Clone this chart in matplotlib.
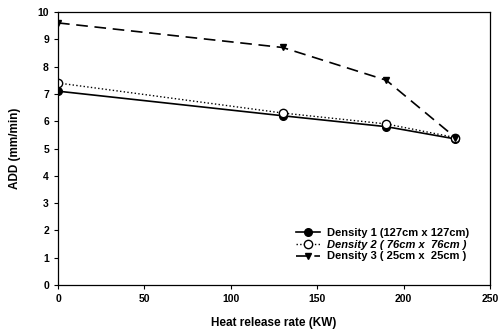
import matplotlib
matplotlib.use('Agg')
import matplotlib.pyplot as plt

plt.rcParams['font.family'] = ['Liberation Sans', 'DejaVu Sans']
plt.rcParams['font.weight'] = 'bold'

# data
heat = [0, 130, 190, 230]
density1 = [7.1, 6.2, 5.8, 5.35]
density2 = [7.4, 6.3, 5.9, 5.4]
density3 = [9.6, 8.7, 7.5, 5.4]
labels = ['Density 1 (127cm x 127cm)',
          'Density 2 ( 76cm x  76cm )',
          'Density 3 ( 25cm x  25cm )']

fig = plt.figure(figsize=(5, 3.33), dpi=100)
ax = fig.add_axes([0.116, 0.144, 0.864, 0.82])

ax.plot(heat, density1, '-', color='black', lw=1.2, marker='o', ms=5.5,
        label=labels[0])
ax.plot(heat, density2, ':', color='black', lw=1.0, marker='o', ms=6,
        markerfacecolor='white', label=labels[1])
ax.plot(heat, density3, '--', color='black', lw=1.2, dashes=(7, 4),
        marker='v', ms=5, label=labels[2])

ax.set_xlim(0, 250)
ax.set_ylim(0, 10)
ax.set_xticks([0, 50, 100, 150, 200, 250])
ax.set_yticks(range(0, 11))
ax.tick_params(direction='out', length=3, labelsize=7.5, width=0.8)
for s in ax.spines.values():
    s.set_linewidth(0.9)

ax.set_xlabel('Heat release rate (KW)', fontsize=8.5, fontweight='bold', labelpad=9)
ax.set_ylabel('ADD (mm/min)', fontsize=8.5, fontweight='bold', labelpad=12)

leg = ax.legend(loc='lower right', bbox_to_anchor=(0.975, 0.05), frameon=False,
                fontsize=8, handlelength=2.2, labelspacing=0.15, handletextpad=0.6)
for t in leg.get_texts()[1:2]:
    t.set_style('italic')

fig.savefig('out.png', dpi=100)
